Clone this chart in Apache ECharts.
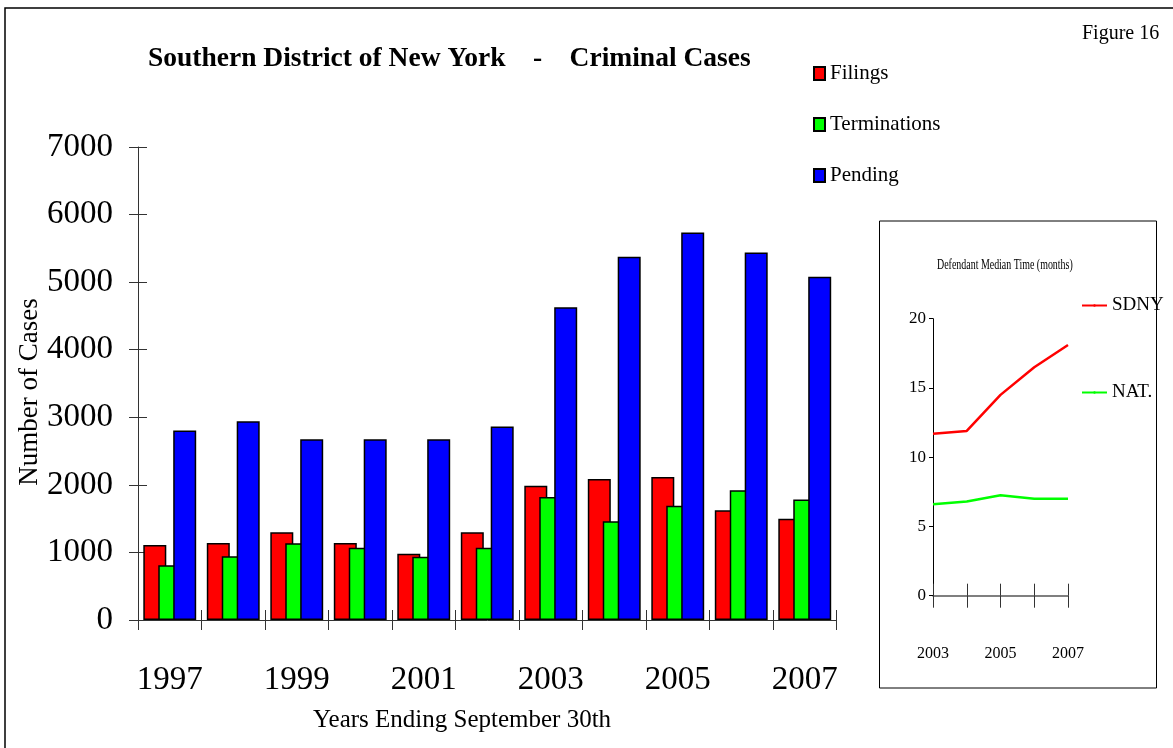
<!DOCTYPE html>
<html>
<head>
<meta charset="utf-8">
<script src="https://cdn.jsdelivr.net/npm/echarts@6/dist/echarts.min.js"></script>
<style>
  html, body { margin: 0; padding: 0; background: #fff; }
  #chart { width: 1173px; height: 748px; }
</style>
</head>
<body>
<div id="chart"></div>
<script>
// main chart data
const years = ['1997', '1998', '1999', '2000', '2001', '2002', '2003', '2004', '2005', '2006', '2007'];
const filings = [1110, 1140, 1300, 1140, 980, 1300, 1985, 2085, 2115, 1625, 1500];
const terminations = [810, 945, 1135, 1070, 935, 1070, 1820, 1460, 1690, 1920, 1785];
const pending = [2805, 2940, 2675, 2675, 2675, 2865, 4630, 5375, 5735, 5440, 5080];

// inset: defendant median time (months)
const insetYears = ['2003', '2004', '2005', '2006', '2007'];
const sdny = [11.7, 11.9, 14.5, 16.5, 18.1];
const nat = [6.6, 6.8, 7.25, 7.0, 7.0];

const font = 'Liberation Serif';
const chart = echarts.init(document.getElementById('chart'));

const barStyle = color => ({ color, borderColor: '#000', borderWidth: 1.5 });
const plain = v => String(v);

const option = {
  backgroundColor: '#fff',
  animation: false,
  textStyle: { fontFamily: font, color: '#000' },
  grid: [
    { left: 138, right: 336.5, top: 147, bottom: 128 },
    { left: 933, right: 105, top: 318.7, bottom: 152.3 }
  ],
  legend: [
    {
      orient: 'vertical', left: 808, top: 58, icon: 'rect', itemWidth: 11, itemHeight: 13, itemGap: 30,
      data: ['Filings', 'Terminations', 'Pending'],
      textStyle: { fontFamily: font, fontSize: 21, color: '#000' }
    },
    {
      orient: 'vertical', left: 1076, top: 291, itemWidth: 25, itemHeight: 3, itemGap: 68,
      data: ['SDNY', 'NAT.'],
      textStyle: { fontFamily: font, fontSize: 19, color: '#000' }
    }
  ],
  xAxis: [
    {
      type: 'category', gridIndex: 0, data: years,
      axisLine: { lineStyle: { color: '#333', width: 1 } },
      axisTick: { show: true, interval: 0, length: 10, lineStyle: { color: '#333' } },
      axisLabel: { interval: 1, fontSize: 33, margin: 44, color: '#000', fontFamily: font }
    },
    {
      type: 'category', gridIndex: 0, data: years, position: 'bottom',
      axisLine: { show: false },
      axisTick: { show: true, interval: 0, inside: true, length: 10, lineStyle: { color: '#333' } },
      axisLabel: { show: false }
    },
    {
      type: 'category', gridIndex: 1, data: insetYears, boundaryGap: false,
      axisLine: { lineStyle: { color: '#555', width: 1.5 } },
      axisTick: { show: true, interval: 0, length: 12, lineStyle: { color: '#333' } },
      axisLabel: { interval: 1, fontSize: 16, margin: 50, color: '#000', fontFamily: font }
    },
    {
      type: 'category', gridIndex: 1, data: insetYears, boundaryGap: false, position: 'bottom',
      axisLine: { show: false },
      axisTick: { show: true, interval: 0, inside: true, length: 12, lineStyle: { color: '#333' } },
      axisLabel: { show: false }
    }
  ],
  yAxis: [
    {
      type: 'value', gridIndex: 0, min: 0, max: 7000, interval: 1000, position: 'left',
      axisLine: { show: true, lineStyle: { color: '#333' } },
      axisTick: { show: true, length: 9, lineStyle: { color: '#333' } },
      splitLine: { show: false },
      axisLabel: { formatter: plain, fontSize: 33, margin: 25, color: '#000', fontFamily: font }
    },
    {
      type: 'value', gridIndex: 0, min: 0, max: 7000, interval: 1000, position: 'left',
      axisLine: { show: false },
      axisTick: { show: true, inside: true, length: 9, lineStyle: { color: '#333' } },
      splitLine: { show: false },
      axisLabel: { show: false }
    },
    {
      type: 'value', gridIndex: 1, min: 0, max: 20, interval: 5, position: 'left',
      axisLine: { show: true, lineStyle: { color: '#000' } },
      axisTick: { show: true, length: 4, lineStyle: { color: '#000' } },
      splitLine: { show: false },
      axisLabel: { formatter: plain, fontSize: 17, margin: 7, color: '#000', fontFamily: font }
    }
  ],
  series: [
    { name: 'Filings', type: 'bar', xAxisIndex: 0, yAxisIndex: 0, data: filings,
      barWidth: 23, barGap: '-35%', itemStyle: barStyle('#ff0000') },
    { name: 'Terminations', type: 'bar', xAxisIndex: 0, yAxisIndex: 0, data: terminations,
      barWidth: 23, barGap: '-35%', itemStyle: barStyle('#00ff00') },
    { name: 'Pending', type: 'bar', xAxisIndex: 0, yAxisIndex: 0, data: pending,
      barWidth: 23, barGap: '-35%', itemStyle: barStyle('#0000ff') },
    { name: 'SDNY', type: 'line', xAxisIndex: 2, yAxisIndex: 2, data: sdny,
      symbol: 'none', lineStyle: { color: '#ff0000', width: 2.5 }, itemStyle: { color: '#ff0000' } },
    { name: 'NAT.', type: 'line', xAxisIndex: 2, yAxisIndex: 2, data: nat,
      symbol: 'none', lineStyle: { color: '#00ff00', width: 2.5 }, itemStyle: { color: '#00ff00' } }
  ],
  graphic: [
    { type: 'rect', shape: { x: 5, y: 8, width: 1200, height: 800 },
      style: { fill: 'none', stroke: '#000', lineWidth: 1.5 }, silent: true },
    { type: 'rect', shape: { x: 879.5, y: 221, width: 277, height: 467 },
      style: { fill: 'none', stroke: '#000', lineWidth: 1 }, silent: true },
    { type: 'text', left: 148, top: 45,
      style: { text: 'Southern District of New York    -    Criminal Cases', font: 'bold 27.5px ' + font, fill: '#000' } },
    { type: 'text', left: 1082, top: 24,
      style: { text: 'Figure 16', font: '20px ' + font, fill: '#000' } },
    { type: 'text', x: 30, y: 392, rotation: Math.PI / 2,
      style: { text: 'Number of Cases', font: '27px ' + font, fill: '#000', align: 'center', verticalAlign: 'middle' } },
    { type: 'text', left: 313, top: 708,
      style: { text: 'Years Ending September 30th', font: '25px ' + font, fill: '#000' } },
    { type: 'text', x: 937, y: 265, scaleX: 0.71,
      style: { text: 'Defendant Median Time (months)', font: '14px ' + font, fill: '#000', align: 'left', verticalAlign: 'middle' } }
  ]
};

chart.setOption(option);
</script>
</body>
</html>
